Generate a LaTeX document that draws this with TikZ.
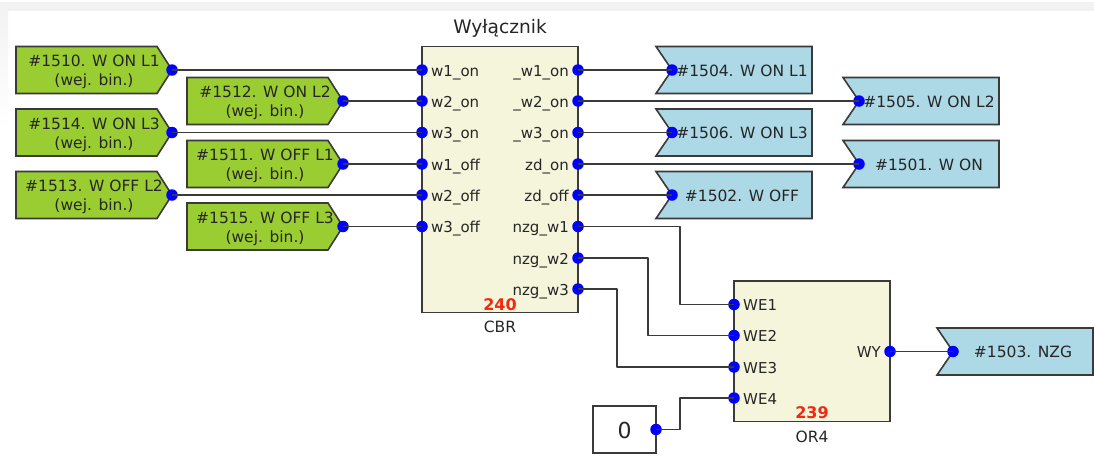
\documentclass[tikz,border=0pt]{standalone}
\usepackage{fontspec}
\setmainfont{DejaVu Sans}
\definecolor{ingreen}{HTML}{9ACD32}
\definecolor{outblue}{HTML}{ADD8E6}
\definecolor{blockbg}{HTML}{F5F5DC}
\definecolor{edge}{HTML}{3A3A3A}
\definecolor{txt}{HTML}{262626}
\definecolor{numred}{HTML}{EE2A10}
\definecolor{strip}{HTML}{F2F2F2}
\tikzset{
  x=1pt,y=-1pt,
  shapeline/.style={draw=edge,line width=1.6pt,line join=miter},
  wire/.style={draw=edge,line width=1.6pt,line join=round},
  pin/.style={circle,fill=blue,inner sep=0pt,minimum size=11.5pt},
  lab/.style={font=\fontsize{15.5}{19}\selectfont,text=txt,inner sep=0pt,align=center,anchor=base},
  portl/.style={font=\fontsize{15}{16}\selectfont,text=txt,inner sep=0pt,anchor=base west},
  portr/.style={font=\fontsize{15}{16}\selectfont,text=txt,inner sep=0pt,anchor=base east},
  num/.style={font=\fontsize{16}{16}\bfseries\selectfont,text=numred,inner sep=0pt,anchor=base},
  blockcap/.style={font=\fontsize{15.5}{16}\selectfont,text=txt,inner sep=0pt,anchor=base},
}
% name, left x, top y, first line
\newcommand{\inbox}[4]{%
  \fill[ingreen] (#2,#3) -- ++(141,0) -- ++(15,23.5) -- ++(-15,23.5) -- ++(-141,0) -- cycle;
  \draw[shapeline] (#2,#3) -- ++(141,0) -- ++(15,23.5) -- ++(-15,23.5) -- ++(-141,0) -- cycle;
  \node[lab] (#1t) at (#2+78,#3+20.3) {#4};
  \node[lab] (#1u) at (#2+78,#3+39.3) {(wej. bin.)};
  \node[pin] (#1) at (#2+156,#3+23.5) {};
}
% name, left x, top y, text
\newcommand{\outbox}[4]{%
  \fill[outblue] (#2,#3) -- ++(156,0) -- ++(0,47) -- ++(-156,0) -- ++(16,-23.5) -- cycle;
  \draw[shapeline] (#2,#3) -- ++(156,0) -- ++(0,47) -- ++(-156,0) -- ++(16,-23.5) -- cycle;
  \node[lab] (#1t) at (#2+86,#3+29.8) {#4};
  \node[pin] (#1) at (#2+16,#3+23.5) {};
}
\newcommand{\inport}[4]{%
  \node[pin] (#1) at (#2,#3) {};
  \node[portl] (#1t) at (#2+9,#3+6) {#4};
}
\newcommand{\outport}[4]{%
  \node[pin] (#1) at (#2,#3) {};
  \node[portr] (#1t) at (#2-9,#3+6) {#4};
}
\begin{document}
\begin{tikzpicture}
\useasboundingbox (0,0) rectangle (1094,459);
\fill[white] (0,0) rectangle (1094,459);
\fill[strip] (8,2) rectangle (1094,11);
\shade[top color=strip,bottom color=white] (0,2) rectangle (8,130);

% blocks
\node[draw=edge,line width=1.6pt,fill=blockbg,minimum width=156pt,minimum height=266pt,inner sep=0pt,outer sep=0pt] (cbr) at (500,179.5) {};
\node[draw=edge,line width=1.6pt,fill=blockbg,minimum width=156pt,minimum height=140.5pt,inner sep=0pt,outer sep=0pt] (orb) at (812,351.25) {};
\node[draw=edge,line width=1.6pt,fill=white,minimum width=63pt,minimum height=47pt,inner sep=0pt,outer sep=0pt] (zero) at (624.5,429.5) {};
\node[font=\fontsize{22}{24}\selectfont,text=txt,inner sep=0pt,anchor=base] (zerot) at (624.5,438) {0};

\node[font=\fontsize{18.6}{20}\selectfont,text=txt,inner sep=0pt,anchor=base] (title) at (500,33.5) {Wyłącznik};
\node[num] (n240) at (500,310) {240};
\node[blockcap] (cbrcap) at (500,332.7) {CBR};
\node[num] (n239) at (812,418.5) {239};
\node[blockcap] (orcap) at (812,442) {OR4};

% inputs
\inbox{a}{16}{46.5}{\#1510. W ON L1}
\inbox{b}{187}{77.5}{\#1512. W ON L2}
\inbox{c}{16}{109}{\#1514. W ON L3}
\inbox{d}{187}{140.5}{\#1511. W OFF L1}
\inbox{e}{16}{171.5}{\#1513. W OFF L2}
\inbox{f}{187}{203}{\#1515. W OFF L3}

% outputs
\outbox{p}{656}{46.5}{\#1504. W ON L1}
\outbox{q}{843}{77.5}{\#1505. W ON L2}
\outbox{r}{656}{109}{\#1506. W ON L3}
\outbox{s}{843}{140.5}{\#1501. W ON}
\outbox{t}{656}{171.5}{\#1502. W OFF}
\outbox{u}{937}{328}{\#1503. NZG}

% CBR ports
\inport{i1}{422}{70}{w1\_on}
\inport{i2}{422}{101}{w2\_on}
\inport{i3}{422}{132.5}{w3\_on}
\inport{i4}{422}{164}{w1\_off}
\inport{i5}{422}{195}{w2\_off}
\inport{i6}{422}{226.5}{w3\_off}
\outport{o1}{578}{70}{\_w1\_on}
\outport{o2}{578}{101}{\_w2\_on}
\outport{o3}{578}{132.5}{\_w3\_on}
\outport{o4}{578}{164}{zd\_on}
\outport{o5}{578}{195}{zd\_off}
\outport{o6}{578}{226.5}{nzg\_w1}
\outport{o7}{578}{258}{nzg\_w2}
\outport{o8}{578}{289}{nzg\_w3}

% OR4 ports
\inport{w1}{734}{304.5}{WE1}
\inport{w2}{734}{335.5}{WE2}
\inport{w3}{734}{367}{WE3}
\inport{w4}{734}{398}{WE4}
\outport{wy}{890}{351.5}{WY}
\node[pin] (zp) at (656,429.5) {};

% connectors
\draw[wire] (a.center) -- (i1.center);
\draw[wire] (b.center) -- (i2.center);
\draw[wire] (c.center) -- (i3.center);
\draw[wire] (d.center) -- (i4.center);
\draw[wire] (e.center) -- (i5.center);
\draw[wire] (f.center) -- (i6.center);
\draw[wire] (o1.center) -- (p.center);
\draw[wire] (o2.center) -- (q.center);
\draw[wire] (o3.center) -- (r.center);
\draw[wire] (o4.center) -- (s.center);
\draw[wire] (o5.center) -- (t.center);
\draw[wire] (o6.center) -- ++(102,0) |- (w1.center);
\draw[wire] (o7.center) -- ++(70,0) |- (w2.center);
\draw[wire] (o8.center) -- ++(39,0) |- (w3.center);
\draw[wire] (zp.center) -- ++(24,0) |- (w4.center);
\draw[wire] (wy.center) -- (u.center);
\end{tikzpicture}
\end{document}
